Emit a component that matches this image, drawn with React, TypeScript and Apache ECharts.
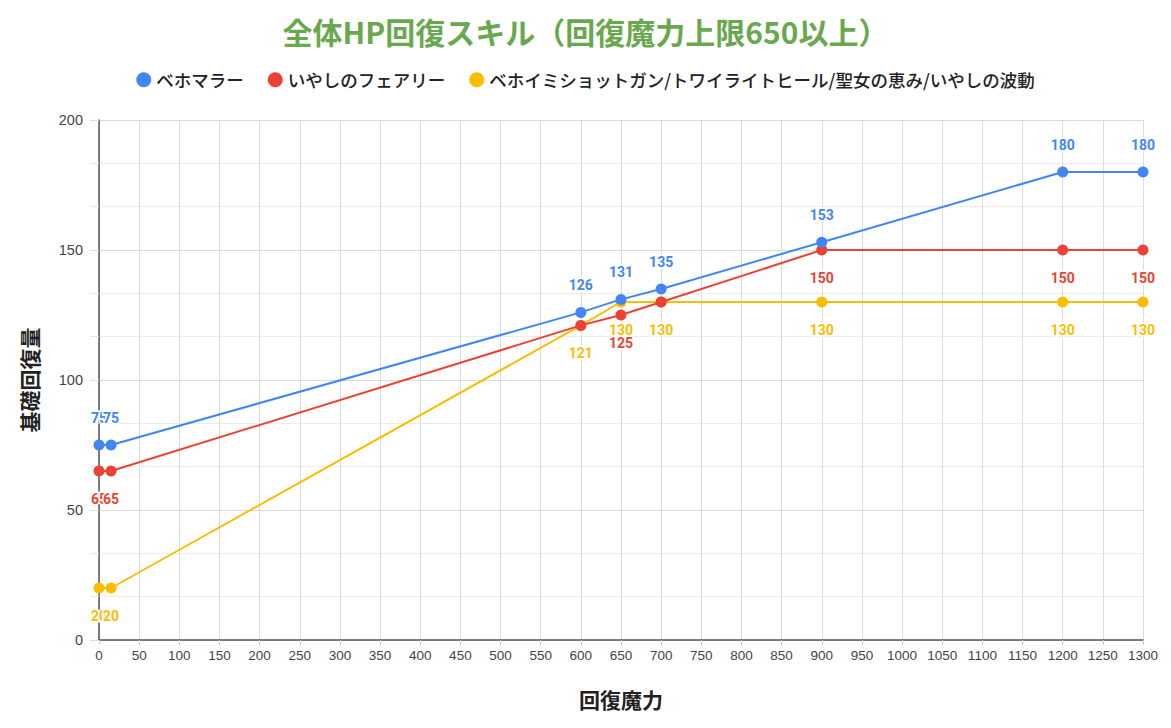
import React, { useEffect, useRef } from "react";
import * as echarts from "echarts";

const titleText = "全体HP回復スキル（回復魔力上限650以上）";
const xName = "回復魔力";
const yName = "基礎回復量";
const seriesNames = [
  "ベホマラー",
  "いやしのフェアリー",
  "ベホイミショットガン/トワイライトヒール/聖女の恵み/いやしの波動",
];
const colors = ["#4285f4", "#ea4335", "#fbbc04"];
const xValues = [0, 15, 600, 650, 700, 900, 1200, 1300];
const behomara = [75, 75, 126, 131, 135, 153, 180, 180];
const fairy = [65, 65, 121, 125, 130, 150, 150, 150];
const others = [20, 20, 121, 130, 130, 130, 130, 130];
// labels hidden by the original chart (overlaps)
const fairyHidden = [600, 700];
const labelPositions = ["top", "bottom", "bottom"];

export default function App() {
  const ref = useRef<HTMLDivElement>(null);
  useEffect(() => {
    if (!ref.current) return;
    const chart = echarts.init(ref.current, null, { renderer: "svg" });
    const all = [behomara, fairy, others];
    const series = all.map((vals, si) => ({
      name: seriesNames[si],
      type: "line",
      data: vals.map((v, i) => {
        const hidden = si === 1 && fairyHidden.includes(xValues[i]);
        return {
          value: [xValues[i], v],
          label: hidden ? { show: false } : undefined,
        };
      }),
      symbol: "circle",
      symbolSize: 11,
      itemStyle: { color: colors[si] },
      lineStyle: { color: colors[si], width: 2 },
      z: 10 - si,
      label: {
        show: true,
        position: labelPositions[si],
        distance: 15,
        color: colors[si],
        fontFamily: "Roboto",
        fontWeight: "bold",
        fontSize: 14,
        textBorderColor: "#fff",
        textBorderWidth: 3,
        formatter: (p: any) => String(p.value[1]),
      },
    }));
    chart.setOption({
      animation: false,
      title: {
        text: titleText,
        left: "center",
        top: 11,
        textStyle: {
          color: "#6aa84f",
          fontSize: 30,
          fontWeight: "bold",
          fontFamily: "Noto Sans CJK JP",
        },
      },
      legend: {
        top: 66,
        left: "center",
        icon: "circle",
        itemWidth: 15,
        itemHeight: 15,
        itemGap: 24,
        textStyle: {
          fontSize: 17.5,
          color: "#222",
          fontFamily: "Noto Sans CJK JP",
          fontWeight: 500,
        },
        data: seriesNames,
      },
      grid: { left: 99, right: 28, top: 120, bottom: 88, containLabel: false },
      xAxis: {
        type: "value",
        min: 0,
        max: 1300,
        interval: 50,
        name: xName,
        nameLocation: "middle",
        nameGap: 48,
        nameTextStyle: {
          fontSize: 21,
          fontWeight: "bold",
          color: "#222",
          fontFamily: "Noto Sans CJK JP",
        },
        axisLine: { show: true, lineStyle: { color: "#555", width: 1.5 } },
        axisTick: { show: true, length: 5, lineStyle: { color: "#ccc" } },
        axisLabel: {
          color: "#444",
          fontSize: 13.5,
          fontFamily: "Liberation Sans",
          margin: 8,
          formatter: (v: number) => String(v),
        },
        splitLine: { show: true, lineStyle: { color: "#dcdcdc", width: 1 } },
      },
      yAxis: {
        type: "value",
        min: 0,
        max: 200,
        interval: 50,
        name: yName,
        nameLocation: "middle",
        nameGap: 60,
        nameRotate: 90,
        nameTextStyle: {
          fontSize: 21,
          fontWeight: "bold",
          color: "#222",
          fontFamily: "Noto Sans CJK JP",
        },
        axisLine: { show: true, lineStyle: { color: "#555", width: 1.5 } },
        axisTick: { show: true, length: 9, lineStyle: { color: "#ddd" } },
        minorTick: {
          show: true,
          splitNumber: 3,
          length: 9,
          lineStyle: { color: "#e6e6e6" },
        },
        minorSplitLine: { show: true, lineStyle: { color: "#ececec" } },
        axisLabel: {
          color: "#444",
          fontSize: 14.5,
          fontFamily: "Liberation Sans",
          margin: 16,
          formatter: (v: number) => String(v),
        },
        splitLine: { show: true, lineStyle: { color: "#dcdcdc" } },
      },
      series,
    });
    return () => chart.dispose();
  }, []);
  return <div ref={ref} style={{ width: 1171, height: 728, position: "absolute", left: 0, top: 0, background: "#fff" }} />;
}
